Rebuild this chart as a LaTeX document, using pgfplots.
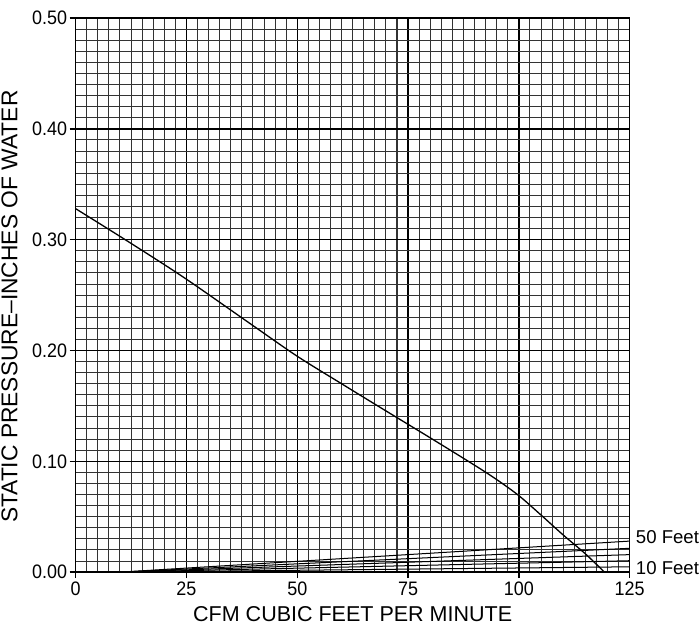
\documentclass[border=0pt]{standalone}
\usepackage{pgfplots}
\pgfplotsset{compat=1.18}
\usepackage{fontspec}
\setmainfont{Liberation Sans}
\newfontfamily\tickfont[FakeStretch=0.92]{Liberation Sans}

\begin{document}
\begin{tikzpicture}
\begin{axis}[
  width=552bp, height=552bp, scale only axis,
  xmin=0, xmax=125, ymin=0, ymax=0.5,
  xtick={0,25,50,75,100,125},
  ytick={0,0.1,0.2,0.3,0.4,0.5},
  minor x tick num=9, minor y tick num=9,
  grid=both,
  minor grid style={black!80, line width=1bp},
  major grid style={black, line width=1.4bp},
  axis line style={black, line width=1.3bp},
  xtick pos=bottom, ytick pos=left, tick align=outside,
  major tick length=6bp, minor tick length=0pt,
  tick style={black, line width=1.3bp},
  /pgf/number format/assume math mode=true,
  ticklabel style={font=\tickfont\fontsize{19.5}{21}\selectfont},
  yticklabel style={/pgf/number format/fixed, /pgf/number format/fixed zerofill, /pgf/number format/precision=2, xshift=1bp},
  xlabel={CFM CUBIC FEET PER MINUTE},
  ylabel={STATIC PRESSURE\textendash INCHES OF WATER},
  xlabel style={font=\fontsize{21.5}{24}\selectfont, at={(axis description cs:0.5,0)}, anchor=base, inner sep=2bp, yshift=-49bp},
  ylabel style={font=\fontsize{22.8}{25}\selectfont, at={(axis description cs:0,0.479)}, anchor=base, inner sep=1.5bp, yshift=58bp},
  clip mode=individual,
]
\addplot[black, line width=1.3bp, smooth] coordinates {
 (0,0.328) (10,0.303) (20,0.2775) (25,0.2643) (30,0.2505) (40,0.2225)
 (50,0.1948) (60,0.1700) (70,0.1455) (80,0.1212) (90,0.0965) (95,0.0835)
 (100,0.0690) (105,0.0515) (110,0.0335) (115,0.0165) (119.3,0)
};
\addplot[black, line width=1bp] coordinates {(10,0) (125,0.0048)};
\addplot[black, line width=1bp] coordinates {(10,0) (125,0.0103)};
\addplot[black, line width=1bp] coordinates {(10,0) (125,0.0158)};
\addplot[black, line width=1bp] coordinates {(10,0) (125,0.0215)};
\addplot[black, line width=1bp] coordinates {(10,0) (125,0.0280)};
\node[anchor=west, inner sep=0pt, xshift=6bp, font=\fontsize{18.6}{20}\selectfont] at (axis cs:125,0.0317) {50 Feet};
\node[anchor=west, inner sep=0pt, xshift=6bp, font=\fontsize{18.6}{20}\selectfont] at (axis cs:125,0.0040) {10 Feet};
\path (rel axis cs:0,1) -- ++(0,18bp);
\path (rel axis cs:0.5,0) -- ++(0,-56bp);
\end{axis}
\end{tikzpicture}
\end{document}
